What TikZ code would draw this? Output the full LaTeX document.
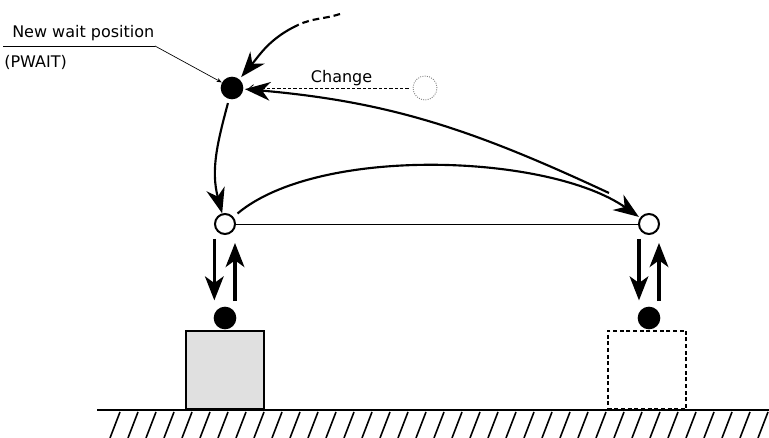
\documentclass[tikz,border=0pt]{standalone}
\usepackage{fontspec}
\setmainfont{DejaVu Sans}
\usetikzlibrary{arrows.meta, positioning, calc}

\begin{document}
\begin{tikzpicture}[
    x=0.75pt, y=0.75pt,
    txt/.style={font=\fontsize{12}{14}\selectfont, inner sep=0pt},
    wait/.style={circle, fill=black, minimum size=17pt, inner sep=0pt},
    hand/.style={circle, draw=black, line width=1.5pt, fill=white, minimum size=15pt, inner sep=0pt},
    ghost/.style={circle, draw=gray, densely dotted, line width=0.7pt, minimum size=18pt, inner sep=0pt},
    work/.style={rectangle, draw=black, line width=1.5pt, fill=black!12, minimum width=59pt, minimum height=59pt, inner sep=0pt},
    spot/.style={rectangle, draw=black, line width=1.5pt, dash pattern=on 3pt off 2pt, minimum width=59pt, minimum height=59pt, inner sep=0pt},
    move/.style={line width=1.6pt, -{Stealth[length=19pt, width=14pt, inset=6pt]}},
    lift/.style={line width=2.4pt, -{Stealth[length=18pt, width=14pt, inset=5pt]}},
    lead/.style={line width=0.5pt, -{Stealth[length=4pt, width=3pt]}},
    hatch/.style={line width=1.2pt}
]
    \useasboundingbox (0,0) rectangle (769,438);

    % Positions
    \node (pwait) [wait] at (232,350) {};
    \node (ghost) [ghost] at (425,350) {};
    \node (box1) [work] at (225,68) {};
    \node (box2) [spot] at (647,68) {};
    \draw [line width=0.6pt] (225,214) -- (649,214);
    \node (hand1) [hand] at (225,214) {};
    \node (hand2) [hand] at (649,214) {};
    \node (tool1) [wait] at (225,120) {};
    \node (tool2) [wait] at (649,120) {};

    % Floor
    \draw [line width=2.2pt] (97,28) -- (769,28);
    \foreach \x in {110,128,...,760}
        \draw [hatch] (\x,0) -- ++(10,26);

    % Labels
    \node (name) [txt, anchor=base west] at (12,400) {New wait position};
    \node (tag) [txt, anchor=base west] at (4,370) {(PWAIT)};
    \coordinate (ul) at (3,392);
    \coordinate (ulend) at (155,392);
    \draw [line width=0.6pt] (ul) -- (ulend);
    \draw [lead] (ulend) -- (pwait);

    % Moves
    \coordinate (feed) at (340,424);
    \coordinate (feedmid) at (298,413);
    \coordinate (back) at (609,245);
    \draw [line width=1.6pt, dash pattern=on 5pt off 3pt] (feed) to[out=198, in=25] (feedmid);
    \draw [move, shorten >=2pt] (feedmid) to[out=205, in=50] (pwait);
    \draw [line width=0.6pt, dash pattern=on 2.5pt off 1.5pt, -{Straight Barb[length=3pt, width=5pt]}, shorten <=3pt, shorten >=4pt]
        (ghost) -- node[txt, above=1.5pt, pos=0.42] (chg) {Change} (pwait);
    \draw [move, shorten <=3pt] (pwait) to[out=255, in=105] (hand1);
    \draw [move, shorten <=4pt, shorten >=1pt] (hand1) to[out=40, in=145, looseness=0.7] (hand2);
    \draw [move, shorten >=1pt] (back) to[out=155, in=-5, looseness=1.0] (pwait);

    % Up and down
    \draw [lift, shorten <=3pt, shorten >=4.5pt] ([xshift=-8pt]hand1.south) -- ([xshift=-8pt]tool1.north);
    \draw [lift, shorten <=4pt, shorten >=6pt] ([xshift=7.5pt]tool1.north) -- ([xshift=7.5pt]hand1.south);
    \draw [lift, shorten <=3pt, shorten >=4.5pt] ([xshift=-7.5pt]hand2.south) -- ([xshift=-7.5pt]tool2.north);
    \draw [lift, shorten <=4pt, shorten >=6pt] ([xshift=7.5pt]tool2.north) -- ([xshift=7.5pt]hand2.south);
\end{tikzpicture}
\end{document}
